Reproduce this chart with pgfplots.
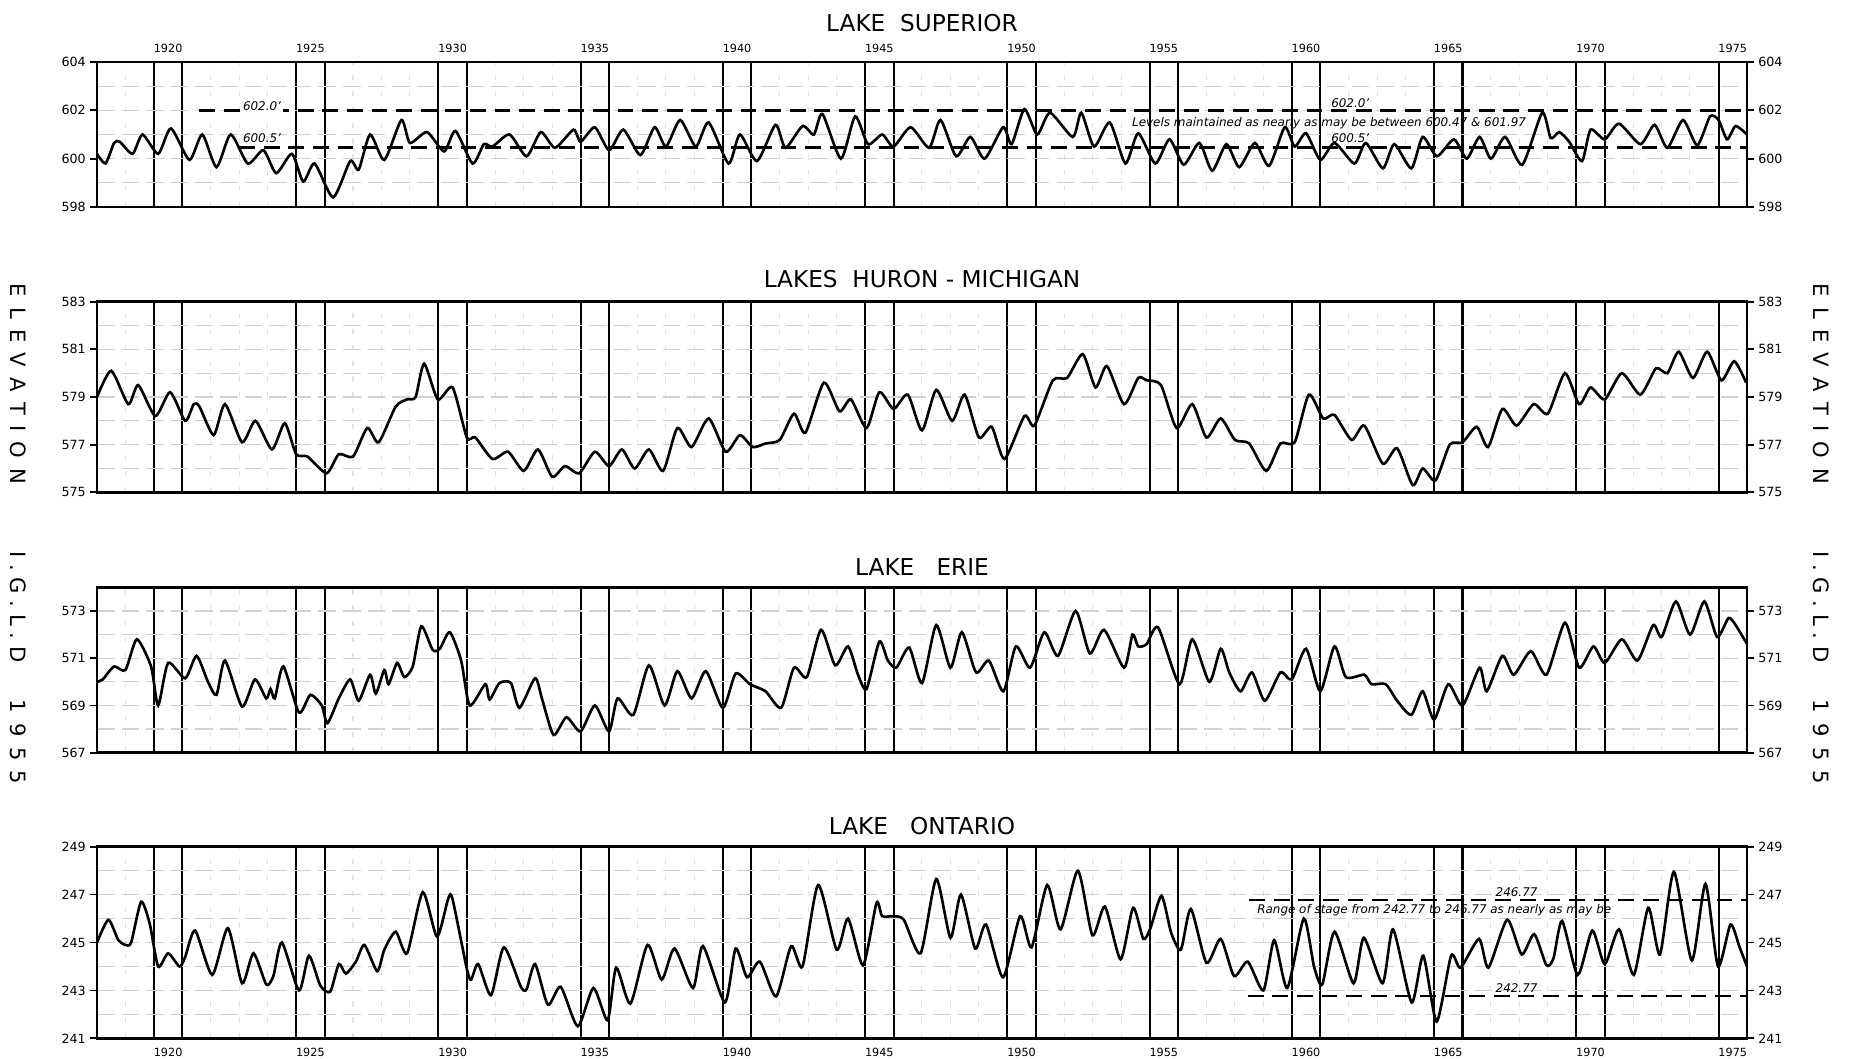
\documentclass[border=0pt]{standalone}
\usepackage{fontspec}
\setmainfont{DejaVu Sans}
\usepackage{pgfplots}
\pgfplotsset{compat=1.18}
\newcommand\tickfont{\fontsize{3.6}{4}\selectfont}
\newcommand\yearfont{\fontsize{3.2}{3.6}\selectfont}
\newcommand\titlefont{\fontsize{6.6}{7}\selectfont}
\newcommand\sidefont{\fontsize{6.0}{6.2}\selectfont}
\newcommand\notefont{\fontsize{3.4}{3.8}\selectfont\itshape}
\pgfplotsset{
 lake/.style={
  scale only axis, width=16.5cm, xmin=1918, xmax=1976,
  anchor=south west,
  axis line style={line width=0.7pt},
  xtick={1920,1921,1925,1926,1930,1931,1935,1936,1940,1941,1945,1946,1950,1951,1955,1956,1960,1961,1965,1966,1970,1971,1975},
  xticklabels={},
  xtick style={draw=none},
  xmajorgrids, major x grid style={black,line width=0.6pt},
  minor xtick={1919,...,1975},
  xminorgrids, minor x grid style={gray!22,line width=0.3pt,dash pattern=on 1.5pt off 3pt},
  ymajorgrids, yminorgrids,
  major y grid style={gray!35,line width=0.35pt,dash pattern=on 5pt off 2pt},
  minor y grid style={gray!35,line width=0.35pt,dash pattern=on 5pt off 2pt},
  tick align=outside, major tick length=2pt, minor tick length=0pt,
  ytick style={black,line width=0.5pt},
  yticklabel style={font=\tickfont, inner sep=1pt},
  /pgf/number format/assume math mode=true,
  clip mode=individual,
 },
 years/.style={
  extra x ticks={1920.5,1925.5,1930.5,1935.5,1940.5,1945.5,1950.5,1955.5,1960.5,1965.5,1970.5,1975.5},
  extra x tick labels={1920,1925,1930,1935,1940,1945,1950,1955,1960,1965,1970,1975},
  extra x tick style={grid=none, tick style={draw=none}, xticklabel style={font=\yearfont, inner sep=0.6pt}},
 },
 series/.style={black, line width=0.75pt, smooth, tension=0.4},
 rng/.style={black, line width=0.75pt, dash pattern=on 4.5pt off 2.5pt},
}
\begin{document}
\begin{tikzpicture}
\path[use as bounding box] (0,0) rectangle (18.51,10.58);

% ---------------- Lake Superior ----------------
\begin{axis}[lake, years, xticklabel pos=right, at={(0.97cm,8.51cm)}, height=1.45cm,
  ymin=598, ymax=604, ytick={598,600,602,604}, minor ytick={599,601,603}]
\addplot[rng] coordinates {(1921.6,602.0) (1976,602.0)};
\addplot[rng] coordinates {(1923.0,600.47) (1976,600.47)};
\addplot[series] coordinates {
(1918.0,600.2)(1918.3,599.8)(1918.6,600.65)(1918.8,600.7)(1919.25,600.2)(1919.6,601.0)(1920.15,600.2)(1920.6,601.25)(1921.25,599.95)(1921.7,601.0)(1922.2,599.65)(1922.7,601.0)(1923.3,599.8)(1923.85,600.35)(1924.3,599.4)(1924.85,600.2)(1925.25,599.05)(1925.65,599.8)(1926.3,598.4)(1926.9,599.9)(1927.2,599.55)(1927.6,601.0)(1928.1,599.95)(1928.7,601.6)(1929.0,600.65)(1929.6,601.1)(1930.2,600.3)(1930.6,601.15)(1931.2,599.8)(1931.6,600.6)(1931.9,600.5)(1932.5,601.0)(1933.1,600.1)(1933.6,601.1)(1934.1,600.45)(1934.75,601.2)(1935.0,600.7)(1935.5,601.3)(1936.0,600.35)(1936.5,601.2)(1937.1,600.15)(1937.6,601.3)(1938.0,600.5)(1938.5,601.6)(1939.05,600.5)(1939.5,601.5)(1940.2,599.8)(1940.6,601.0)(1941.2,599.9)(1941.85,601.4)(1942.2,600.45)(1942.8,601.35)(1943.2,601.0)(1943.5,601.85)(1944.15,600.0)(1944.65,601.75)(1945.1,600.6)(1945.6,601.0)(1946.0,600.5)(1946.6,601.3)(1947.25,600.45)(1947.65,601.6)(1948.2,600.1)(1948.7,600.9)(1949.2,600.0)(1949.85,601.3)(1950.15,600.6)(1950.6,602.05)(1951.05,601.0)(1951.5,601.9)(1952.3,600.9)(1952.6,601.9)(1953.05,600.5)(1953.6,601.5)(1954.15,599.8)(1954.6,601.05)(1955.2,599.8)(1955.7,600.8)(1956.2,599.75)(1956.75,600.65)(1957.2,599.5)(1957.7,600.6)(1958.15,599.65)(1958.7,600.65)(1959.2,599.7)(1959.75,601.3)(1960.1,600.5)(1960.5,601.05)(1961.0,599.95)(1961.5,600.65)(1962.2,599.8)(1962.6,600.65)(1963.2,599.6)(1963.6,600.6)(1964.2,599.6)(1964.6,600.9)(1965.1,600.1)(1965.7,600.8)(1966.15,600.0)(1966.6,600.9)(1967.0,600.0)(1967.5,600.9)(1968.1,599.75)(1968.8,601.9)(1969.1,600.85)(1969.4,601.1)(1969.75,600.7)(1970.2,599.9)(1970.5,601.2)(1971.0,600.8)(1971.5,601.45)(1972.25,600.6)(1972.75,601.4)(1973.2,600.45)(1973.75,601.6)(1974.25,600.55)(1974.7,601.75)(1975.0,601.6)(1975.3,600.8)(1975.6,601.35)(1976.0,601.0)};
\node[font=\notefont, anchor=south, inner sep=0.5pt, fill=white] at (axis cs:1923.8,601.9) {602.0'};
\node[font=\notefont, anchor=south, inner sep=0.5pt] at (axis cs:1923.8,600.55) {600.5'};
\node[font=\notefont, anchor=south west, inner sep=0.5pt] at (axis cs:1961.3,602.0) {602.0'};
\node[font=\notefont, anchor=west, inner sep=0.5pt] at (axis cs:1954.3,601.45) {Levels maintained as nearly as may be between 600.47 \& 601.97};
\node[font=\notefont, anchor=south west, inner sep=0.5pt] at (axis cs:1961.3,600.55) {600.5'};
\pgfplotsinvokeforeach{598,600,602,604}{\node[anchor=west,font=\tickfont,inner sep=1pt,xshift=2pt] at (axis cs:1976,#1) {#1};}
\end{axis}

% ---------------- Lakes Huron-Michigan ----------------
\begin{axis}[lake, at={(0.97cm,5.657cm)}, height=1.906cm,
  ymin=575, ymax=583, ytick={575,577,579,581,583}, minor ytick={576,578,580,582}]
\addplot[series] coordinates {
(1918.0,579.0)(1918.5,580.1)(1919.1,578.7)(1919.45,579.5)(1920.05,578.2)(1920.57,579.2)(1921.1,578.0)(1921.4,578.7)(1921.6,578.6)(1922.1,577.4)(1922.5,578.7)(1923.1,577.1)(1923.57,578.0)(1924.15,576.8)(1924.6,577.9)(1925.0,576.6)(1925.4,576.5)(1926.07,575.8)(1926.5,576.6)(1927.0,576.5)(1927.5,577.7)(1927.9,577.1)(1928.5,578.6)(1928.9,578.9)(1929.2,579.0)(1929.5,580.4)(1929.98,578.9)(1930.5,579.4)(1931.0,577.3)(1931.3,577.3)(1931.9,576.4)(1932.45,576.7)(1933.0,575.9)(1933.5,576.8)(1934.0,575.65)(1934.45,576.1)(1934.95,575.8)(1935.5,576.7)(1936.0,576.1)(1936.45,576.8)(1936.9,576.0)(1937.4,576.8)(1937.9,575.9)(1938.4,577.7)(1938.9,576.9)(1939.5,578.1)(1940.1,576.7)(1940.6,577.4)(1941.05,576.9)(1941.5,577.05)(1942.0,577.2)(1942.5,578.3)(1942.9,577.5)(1943.55,579.6)(1944.1,578.4)(1944.5,578.9)(1945.05,577.7)(1945.5,579.2)(1946.0,578.5)(1946.5,579.1)(1947.0,577.6)(1947.5,579.3)(1948.06,578.0)(1948.5,579.1)(1949.0,577.3)(1949.45,577.75)(1949.9,576.4)(1950.6,578.2)(1950.95,577.8)(1951.6,579.7)(1952.1,579.8)(1952.65,580.8)(1953.1,579.4)(1953.5,580.3)(1954.1,578.7)(1954.6,579.8)(1954.9,579.7)(1955.4,579.5)(1955.95,577.7)(1956.5,578.7)(1957.0,577.3)(1957.5,578.1)(1958.0,577.2)(1958.5,577.05)(1959.1,575.9)(1959.6,577.05)(1960.1,577.1)(1960.6,579.1)(1961.1,578.1)(1961.5,578.25)(1962.1,577.2)(1962.55,577.8)(1963.2,576.2)(1963.7,576.85)(1964.25,575.3)(1964.6,576.0)(1965.05,575.5)(1965.55,577.0)(1966.0,577.1)(1966.5,577.75)(1966.9,576.9)(1967.4,578.5)(1967.9,577.8)(1968.5,578.7)(1969.0,578.3)(1969.6,580.0)(1970.1,578.7)(1970.5,579.4)(1971.0,578.9)(1971.6,580.0)(1972.25,579.1)(1972.8,580.2)(1973.2,580.0)(1973.6,580.9)(1974.1,579.8)(1974.6,580.9)(1975.1,579.7)(1975.55,580.5)(1975.97,579.6)};
\pgfplotsinvokeforeach{575,577,579,581,583}{\node[anchor=west,font=\tickfont,inner sep=1pt,xshift=2pt] at (axis cs:1976,#1) {#1};}
\end{axis}

% ---------------- Lake Erie ----------------
\begin{axis}[lake, at={(0.97cm,3.053cm)}, height=1.654cm,
  ymin=567, ymax=574, ytick={567,569,571,573}, minor ytick={568,570,572}]
\addplot[series] coordinates {
(1918.0,570.0)(1918.2,570.1)(1918.6,570.65)(1919.0,570.5)(1919.4,571.8)(1919.9,570.65)(1920.15,569.0)(1920.5,570.8)(1921.1,570.15)(1921.5,571.1)(1921.9,570.0)(1922.2,569.45)(1922.5,570.9)(1923.1,568.95)(1923.55,570.1)(1923.95,569.3)(1924.1,569.7)(1924.25,569.3)(1924.55,570.65)(1925.1,568.7)(1925.5,569.45)(1925.9,569.0)(1926.1,568.25)(1926.5,569.3)(1926.9,570.1)(1927.2,569.2)(1927.6,570.3)(1927.8,569.5)(1928.1,570.5)(1928.25,569.9)(1928.55,570.8)(1928.8,570.2)(1929.1,570.65)(1929.4,572.35)(1929.8,571.35)(1930.05,571.4)(1930.4,572.1)(1930.8,570.9)(1931.1,569.0)(1931.65,569.9)(1931.8,569.25)(1932.15,569.95)(1932.55,569.95)(1932.85,568.9)(1933.4,570.15)(1933.65,569.25)(1934.05,567.75)(1934.5,568.5)(1935.0,567.9)(1935.5,569.0)(1936.0,567.9)(1936.3,569.3)(1936.85,568.6)(1937.4,570.7)(1937.95,569.0)(1938.4,570.45)(1938.9,569.3)(1939.4,570.45)(1940.0,568.9)(1940.45,570.35)(1940.95,569.9)(1941.5,569.6)(1942.05,568.9)(1942.5,570.6)(1942.95,570.2)(1943.45,572.2)(1943.95,570.7)(1944.4,571.5)(1944.75,570.3)(1945.05,569.7)(1945.5,571.7)(1945.8,570.9)(1946.1,570.6)(1946.55,571.45)(1947.0,569.95)(1947.5,572.4)(1948.0,570.6)(1948.4,572.1)(1948.9,570.4)(1949.35,570.9)(1949.86,569.6)(1950.3,571.5)(1950.8,570.6)(1951.3,572.1)(1951.78,571.1)(1952.4,573.0)(1952.9,571.2)(1953.4,572.2)(1954.1,570.6)(1954.4,572.0)(1954.6,571.5)(1954.9,571.6)(1955.3,572.3)(1956.05,569.9)(1956.5,571.8)(1957.1,570.0)(1957.5,571.4)(1957.8,570.4)(1958.2,569.6)(1958.6,570.4)(1959.05,569.2)(1959.6,570.4)(1960.0,570.1)(1960.5,571.4)(1961.0,569.6)(1961.5,571.5)(1961.9,570.2)(1962.55,570.3)(1962.8,569.9)(1963.3,569.9)(1963.7,569.2)(1964.2,568.6)(1964.6,569.6)(1965.0,568.4)(1965.5,569.9)(1966.0,569.0)(1966.6,570.6)(1966.85,569.6)(1967.4,571.1)(1967.8,570.3)(1968.4,571.3)(1968.95,570.3)(1969.6,572.5)(1970.1,570.6)(1970.6,571.5)(1971.0,570.8)(1971.6,571.8)(1972.15,570.9)(1972.7,572.4)(1973.0,571.9)(1973.5,573.4)(1974.0,572.0)(1974.5,573.4)(1974.95,571.9)(1975.35,572.7)(1975.6,572.4)(1976.0,571.6)};
\pgfplotsinvokeforeach{567,569,571,573}{\node[anchor=west,font=\tickfont,inner sep=1pt,xshift=2pt] at (axis cs:1976,#1) {#1};}
\end{axis}

% ---------------- Lake Ontario ----------------
\begin{axis}[lake, years, xticklabel pos=left, at={(0.97cm,0.197cm)}, height=1.916cm,
  ymin=241, ymax=249, ytick={241,243,245,247,249}, minor ytick={242,244,246,248}]
\addplot[rng] coordinates {(1958.5,246.77) (1976,246.77)};
\addplot[rng] coordinates {(1958.45,242.77) (1976,242.77)};
\addplot[series] coordinates {
(1918.0,245.0)(1918.4,245.95)(1918.75,245.1)(1919.0,244.9)(1919.2,245.0)(1919.55,246.7)(1919.85,245.8)(1920.15,244.0)(1920.5,244.55)(1920.9,244.0)(1921.1,244.4)(1921.45,245.5)(1922.05,243.65)(1922.6,245.6)(1923.1,243.3)(1923.5,244.55)(1923.95,243.25)(1924.2,243.6)(1924.5,245.0)(1925.1,243.0)(1925.45,244.45)(1925.85,243.2)(1926.2,242.95)(1926.5,244.1)(1926.75,243.7)(1927.1,244.2)(1927.4,244.9)(1927.85,243.8)(1928.1,244.7)(1928.5,245.45)(1928.9,244.55)(1929.45,247.1)(1929.95,245.25)(1930.35,246.85)(1930.5,246.8)(1931.0,243.9)(1931.15,243.45)(1931.4,244.1)(1931.85,242.8)(1932.3,244.8)(1932.9,243.15)(1933.1,243.05)(1933.4,244.1)(1933.85,242.4)(1934.3,243.15)(1934.9,241.5)(1935.45,243.1)(1935.95,241.75)(1936.25,243.95)(1936.75,242.45)(1937.35,244.9)(1937.85,243.45)(1938.3,244.75)(1938.95,243.1)(1939.3,244.85)(1940.07,242.5)(1940.45,244.75)(1940.85,243.55)(1941.3,244.2)(1941.87,242.75)(1942.4,244.85)(1942.8,244.0)(1943.35,247.4)(1944.0,244.7)(1944.4,246.0)(1944.93,244.05)(1945.4,246.65)(1945.6,246.1)(1946.0,246.1)(1946.36,245.95)(1946.95,244.55)(1947.5,247.65)(1948.0,245.2)(1948.37,247.0)(1948.87,244.75)(1949.25,245.75)(1949.85,243.55)(1950.45,246.1)(1950.85,244.8)(1951.4,247.4)(1951.87,245.55)(1952.48,248.0)(1952.99,245.3)(1953.43,246.5)(1953.98,244.3)(1954.42,246.45)(1954.78,245.15)(1955.03,245.6)(1955.42,246.95)(1955.76,245.4)(1956.1,244.7)(1956.45,246.4)(1957.0,244.15)(1957.5,245.15)(1957.97,243.6)(1958.45,244.2)(1959.0,243.0)(1959.38,245.1)(1959.84,243.1)(1960.42,246.0)(1960.78,244.0)(1961.07,243.25)(1961.5,245.45)(1962.17,243.3)(1962.53,245.2)(1963.19,243.3)(1963.56,245.55)(1964.21,242.5)(1964.62,244.45)(1965.09,241.7)(1965.6,244.45)(1965.93,243.95)(1966.58,245.15)(1966.91,243.95)(1967.57,245.95)(1968.08,244.5)(1968.52,245.35)(1968.95,244.05)(1969.2,244.35)(1969.5,245.9)(1970.05,243.65)(1970.56,245.5)(1971.0,244.1)(1971.5,245.55)(1972.02,243.65)(1972.53,246.45)(1972.94,244.5)(1973.43,247.95)(1974.06,244.25)(1974.54,247.45)(1974.98,244.0)(1975.42,245.75)(1975.74,244.8)(1976.0,244.0)};
\node[font=\notefont, anchor=south, inner sep=0.5pt] at (axis cs:1967.9,246.8) {246.77};
\node[font=\notefont, anchor=south, inner sep=0.5pt] at (axis cs:1967.9,242.8) {242.77};
\node[font=\notefont, anchor=north west, inner sep=0.5pt] at (axis cs:1958.7,246.7) {Range of stage from 242.77 to 246.77 as nearly as may be};
\pgfplotsinvokeforeach{241,243,245,247,249}{\node[anchor=west,font=\tickfont,inner sep=1pt,xshift=2pt] at (axis cs:1976,#1) {#1};}
\end{axis}

% ---------------- titles ----------------
\node[font=\titlefont] at (9.22,10.35) {LAKE\ \ SUPERIOR};
\node[font=\titlefont] at (9.22,7.79) {LAKES\ \ HURON - MICHIGAN};
\node[font=\titlefont] at (9.22,4.91) {LAKE\ \ \ ERIE};
\node[font=\titlefont] at (9.22,2.32) {LAKE\ \ \ ONTARIO};

% ---------------- side labels ----------------
\foreach \xx in {0.18,18.21}{
 \node[font=\sidefont, rotate=-90] at (\xx,6.74) {E\ \,L\ \,E\ \,V\ \,A\ \,T\ \,I\ \,O\ \,N};
 \node[font=\sidefont, rotate=-90] at (\xx,4.51) {I\ .\ G\ .\ L\ .\ D};
 \node[font=\sidefont, rotate=-90] at (\xx,3.16) {1\ \,9\ \,5\ \,5};
}
\end{tikzpicture}
\end{document}
